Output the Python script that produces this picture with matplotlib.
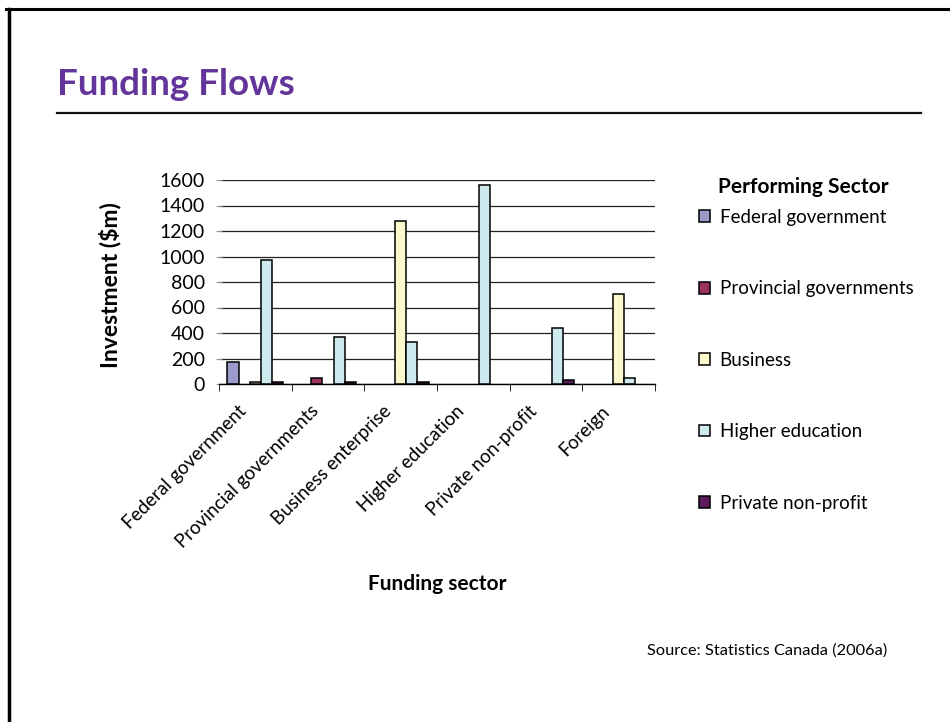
import numpy as np
import matplotlib
matplotlib.use('Agg')
import matplotlib.pyplot as plt
import matplotlib.transforms as mtransforms
from matplotlib.patches import Patch
from matplotlib.lines import Line2D

plt.rcParams['font.family'] = ['Lato', 'DejaVu Sans']

# Funding sector (x categories)
funding_sectors = ['Federal government', 'Provincial governments', 'Business enterprise',
                   'Higher education', 'Private non-profit', 'Foreign']

# Performing sector series (investment, $m)
performing_sectors = ['Federal government', 'Provincial governments', 'Business',
                      'Higher education', 'Private non-profit']
federal_gov = [175, 0, 0, 0, 0, 0]
provincial_gov = [0, 45, 0, 0, 0, 0]
business = [12, 0, 1280, 0, 0, 703]
higher_ed = [970, 371, 329, 1560, 437, 45]
private_np = [12, 12, 12, 0, 31, 0]

series = [federal_gov, provincial_gov, business, higher_ed, private_np]
colors = ['#9a9acc', '#99345f', '#fbf9cc', '#ceeaef', '#5e1a5e']

y_ticks = [0, 200, 400, 600, 800, 1000, 1200, 1400, 1600]

W, H = 950, 722
fig = plt.figure(figsize=(W / 100, H / 100), dpi=100)

## Slide decorations: border, title, underline
fig.add_artist(Line2D([6 / W, 1.0], [1 - 9 / H, 1 - 9 / H], color='black', lw=2.2))
fig.add_artist(Line2D([8.5 / W, 8.5 / W], [0, 1 - 9 / H], color='black', lw=2.5))
fig.add_artist(Line2D([57 / W, 921 / W], [1 - 113 / H, 1 - 113 / H], color='#111111', lw=1.6))
fig.text(57 / W, 1 - 95 / H, 'Funding Flows', color='#63349a', fontsize=26.5, fontweight='bold',
         ha='left', va='baseline')

## Chart
ax = fig.add_axes([219 / W, 1 - 384 / H, (655 - 219) / W, (384 - 180) / H])

n_series = len(series)
gap = 1.5
bar_w = 1.0 / (n_series + gap)
x = np.arange(len(funding_sectors))
for i, (vals, col, name) in enumerate(zip(series, colors, performing_sectors)):
    offs = (i - (n_series - 1) / 2) * bar_w
    # zero values are not drawn at all (no flat outline)
    v = np.array(vals, dtype=float)
    v[v == 0] = np.nan
    ax.bar(x + offs, v, width=bar_w, color=col, edgecolor='black', linewidth=1.1,
           label=name, zorder=3)

ax.set_xlim(-0.5, len(funding_sectors) - 0.5)
ax.set_ylim(0, 1600)
ax.set_yticks(y_ticks)
ax.set_yticklabels([str(v) for v in y_ticks], fontsize=14)
ax.yaxis.grid(True, color='#222222', linewidth=0.9, zorder=0)
ax.set_axisbelow(True)

for s in ['top', 'right', 'left']:
    ax.spines[s].set_visible(False)
ax.spines['bottom'].set_linewidth(1.0)
ax.tick_params(axis='y', length=4, direction='inout', color='#999999', pad=8)

# category boundary ticks
ax.set_xticks(x)
ax.set_xticks(np.arange(-0.5, len(funding_sectors)), minor=True)
ax.tick_params(axis='x', which='major', length=0, pad=19)
ax.tick_params(axis='x', which='minor', length=5, direction='out', color='black')
ax.set_xticklabels(funding_sectors, fontsize=13.5)
shift = mtransforms.ScaledTranslation(-0.18, 0.08, fig.dpi_scale_trans)
for lab in ax.get_xticklabels():
    lab.set_rotation(45)
    lab.set_ha('right')
    lab.set_va('top')
    lab.set_rotation_mode('anchor')
    lab.set_transform(lab.get_transform() + shift)

fig.text(110 / W, 1 - 285 / H, 'Investment ($m)', rotation=90, fontsize=16.5, fontweight='bold',
         ha='center', va='center')
fig.text(437 / W, 1 - 584 / H, 'Funding sector', fontsize=15, fontweight='bold',
         ha='center', va='center')
fig.text(887 / W, 1 - 651 / H, 'Source: Statistics Canada (2006a)', fontsize=11.8,
         ha='right', va='center')

## Legend
fig.text(803 / W, 1 - 187 / H, 'Performing Sector', fontsize=15, fontweight='bold',
         ha='center', va='center')
handles = [Patch(facecolor=c, edgecolor='black', linewidth=1.1) for c in colors]
fig.legend(handles, performing_sectors, loc='upper left', bbox_to_anchor=(699 / W, 1 - 209 / H),
           frameon=False, borderpad=0, borderaxespad=0, fontsize=13.5, labelspacing=2.9,
           handlelength=0.6, handleheight=0.6, handletextpad=0.5)

fig.savefig('out.png', dpi=100)
